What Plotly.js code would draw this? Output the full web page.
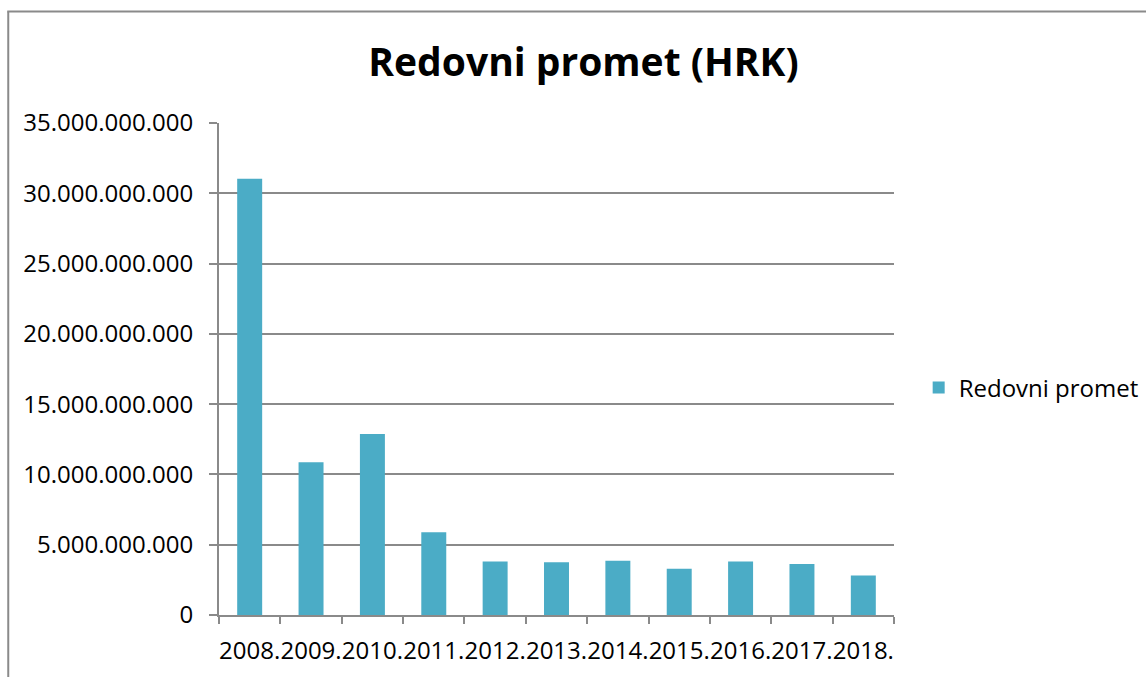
<!DOCTYPE html>
<html>
<head>
<meta charset="utf-8">
<script src="https://cdn.plot.ly/plotly-3.0.1.min.js"></script>
<style>
  html, body { margin: 0; padding: 0; background: #fff; }
  #chart { width: 1146px; height: 677px; }
</style>
</head>
<body>
<div id="chart"></div>
<script>
const years = ["2008.", "2009.", "2010.", "2011.", "2012.", "2013.", "2014.", "2015.", "2016.", "2017.", "2018."];
const redovniPromet = [31.04e9, 10.87e9, 12.88e9, 5.89e9, 3.81e9, 3.76e9, 3.86e9, 3.29e9, 3.81e9, 3.62e9, 2.81e9];
const seriesName = "Redovni promet";
const chartTitle = "Redovni promet (HRK)";

const W = 1146, H = 677;
const L = 218.5, R = 894.3, T = 122.7, B = 615.5;
const pw = R - L, ph = B - T;
const px = v => (v - L) / pw;
const py = v => (B - v) / ph;

const FONT = "'Open Sans', Lato, sans-serif";
const gray = "#8a8a8a";

const data = [{
  type: "bar",
  x: years,
  y: redovniPromet,
  name: seriesName,
  marker: { color: "#4bacc6", line: { width: 0 } },
  hoverinfo: "x+y"
}];

const layout = {
  width: W, height: H,
  margin: { l: L, r: W - R, t: T, b: H - B, pad: 0, autoexpand: false },
  paper_bgcolor: "#fff",
  plot_bgcolor: "#fff",
  separators: ",.",
  font: { family: FONT, size: 24, color: "#000" },
  bargap: 0.593,
  showlegend: true,
  title: {
    text: "<b>" + chartTitle + "</b>",
    font: { family: FONT, size: 39, color: "#000" },
    x: 583.5 / W, xref: "container", xanchor: "center",
    y: 1 - 62 / H, yref: "container", yanchor: "middle"
  },
  xaxis: {
    type: "category",
    showgrid: false,
    showline: true, linecolor: gray, linewidth: 2,
    ticks: "outside", tickson: "boundaries", ticklen: 7, tickcolor: gray, tickwidth: 2,
    tickangle: 0,
    tickfont: { family: FONT, size: 24, color: "#000" },
    ticklabelstandoff: 13,
    automargin: false,
    fixedrange: true
  },
  yaxis: {
    range: [0, 35e9],
    dtick: 5e9, tick0: 0,
    tickformat: ",d",
    showgrid: true, gridcolor: gray, gridwidth: 2,
    zeroline: false,
    showline: true, linecolor: gray, linewidth: 2,
    ticks: "outside", ticklen: 8, tickcolor: gray, tickwidth: 2,
    tickfont: { family: FONT, size: 24, color: "#000" },
    ticklabelstandoff: 11,
    automargin: false,
    fixedrange: true
  },
  legend: {
    x: px(919), xanchor: "left",
    y: py(388), yanchor: "middle",
    font: { family: FONT, size: 24, color: "#000" },
    bgcolor: "rgba(0,0,0,0)",
    itemwidth: 30
  },
  shapes: [
    { type: "line", xref: "paper", yref: "paper", x0: px(7.5), x1: px(7.5), y0: py(11), y1: py(700), line: { color: gray, width: 2 } },
    { type: "line", xref: "paper", yref: "paper", x0: px(6.5), x1: px(1160), y0: py(11), y1: py(11), line: { color: gray, width: 2 } }
  ]
};

Plotly.newPlot("chart", data, layout, { displayModeBar: false, staticPlot: true });
</script>
</body>
</html>
